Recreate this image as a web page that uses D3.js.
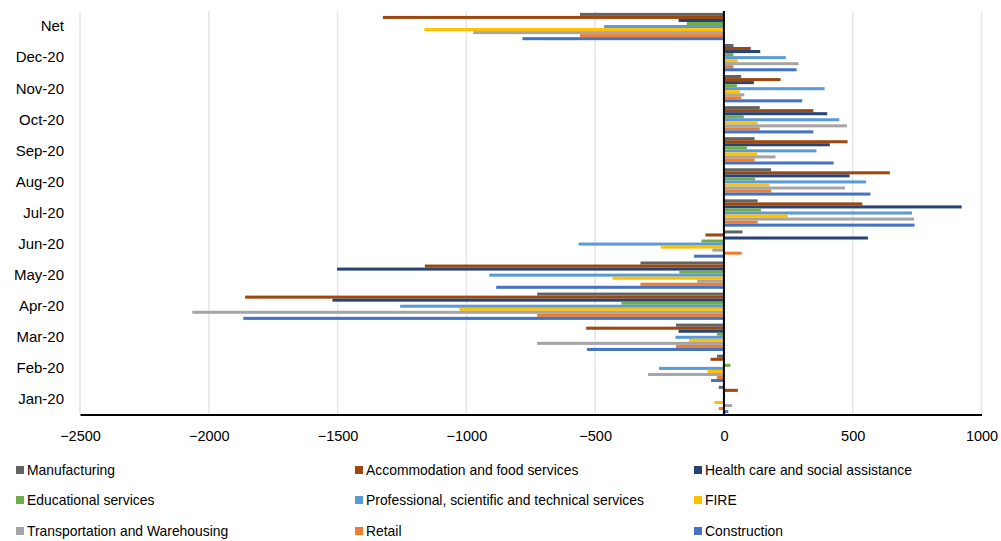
<!DOCTYPE html>
<html><head><meta charset="utf-8">
<script src="https://cdn.jsdelivr.net/npm/d3@7"></script>
<style>body{margin:0;background:#fff}svg{display:block;font-family:"Liberation Sans",Arial,sans-serif}</style>
</head><body><svg id="c" width="1001" height="541"></svg>
<script>
const categories = ["Net","Dec-20","Nov-20","Oct-20","Sep-20","Aug-20","Jul-20","Jun-20","May-20","Apr-20","Mar-20","Feb-20","Jan-20"];
const seriesNames = ["Manufacturing","Accommodation and food services","Health care and social assistance","Educational services","Professional, scientific and technical services","FIRE","Transportation and Warehousing","Retail","Construction"];
const seriesColors = ["#636363","#9E480E","#264478","#70AD47","#5B9BD5","#FFC000","#A5A5A5","#ED7D31","#4472C4"];
// values per series, in category order above
const manufacturing  = [-559, 37, 67, 139, 119, 183, 131, 72, -324, -725, -186, -27, -20];
const accommodation  = [-1324, 104, 220, 347, 480, 644, 537, -72, -1161, -1859, -535, -52, 54];
const health         = [-176, 141, 116, 401, 411, 488, 923, 559, -1502, -1520, -176, -3, 3];
const educational    = [-144, 37, 50, 77, 89, 121, 144, -87, -173, -398, -27, 25, 5];
const professional   = [-465, 240, 391, 448, 359, 552, 730, -564, -911, -1257, -188, -252, 2];
const fire           = [-1163, 54, 62, 131, 129, 176, 248, -245, -433, -1027, -136, -64, -37];
const transportation = [-973, 290, 79, 478, 200, 470, 738, -45, -104, -2064, -725, -295, 32];
const retail         = [-559, 37, 67, 139, 119, 183, 131, 69, -324, -725, -186, -27, -20];
const construction   = [-782, 282, 304, 347, 426, 569, 740, -116, -884, -1866, -532, -50, 17];
const allValues = [manufacturing, accommodation, health, educational, professional, fire, transportation, retail, construction];
const xTicks = [-2500,-2000,-1500,-1000,-500,0,500,1000];

const svg = d3.select("#c");
const x = d3.scaleLinear().domain([-2500,1000]).range([80, 981.5]);
const y = d3.scaleBand().domain(categories).range([11, 415]).padding(0);
const y1 = d3.scaleBand().domain(seriesNames).range([0, y.bandwidth()]).paddingInner(0).paddingOuter(0.62);

// gridlines
svg.append("g").selectAll("line").data(xTicks).join("line")
  .attr("x1", d=>x(d)).attr("x2", d=>x(d)).attr("y1", 11).attr("y2", 414)
  .attr("stroke", "#e6e6e6").attr("stroke-width", 1.5);

// bars
const rows = [];
categories.forEach((c,i)=>seriesNames.forEach((s,j)=>rows.push({c, s, j, v: allValues[j][i]})));
svg.append("g").selectAll("rect").data(rows).join("rect")
  .attr("x", d=>x(Math.min(0,d.v)))
  .attr("width", d=>Math.abs(x(d.v)-x(0)))
  .attr("y", d=>y(d.c)+y1(d.s))
  .attr("height", y1.bandwidth())
  .attr("fill", d=>seriesColors[d.j]);

// zero line
svg.append("line").attr("x1", x(0)).attr("x2", x(0)).attr("y1", 11).attr("y2", 415)
  .attr("stroke", "#000").attr("stroke-width", 2);

// bottom axis
const xAxis = d3.axisBottom(x).tickValues(xTicks).tickSize(0).tickPadding(16).tickFormat(d3.format("d"));
const gx = svg.append("g").attr("transform", "translate(0,414.5)").call(xAxis);
gx.select(".domain").attr("stroke", "#000").attr("stroke-width", 2);
gx.selectAll("text").attr("font-size", 14.5).attr("fill", "#000").attr("font-family", "Liberation Sans, Arial, sans-serif");

// category labels
const yAxis = d3.axisLeft(y).tickSize(0).tickPadding(0);
const gy = svg.append("g").attr("transform", "translate(64,0)").call(yAxis);
gy.select(".domain").remove();
gy.selectAll("text").attr("font-size", 15).attr("fill", "#000").attr("font-family", "Liberation Sans, Arial, sans-serif");

// legend
const colX = [16, 355, 694];
const rowY = [470, 500, 531];
const lg = svg.append("g").selectAll("g").data(seriesNames).join("g")
  .attr("transform", (d,i)=>`translate(${colX[i%3]},${rowY[Math.floor(i/3)]})`);
lg.append("rect").attr("x",0).attr("y",-4).attr("width",8).attr("height",8).attr("fill",(d,i)=>seriesColors[i]);
lg.append("text").attr("x",11).attr("y",0).attr("dy","0.35em").attr("font-size",13.9).attr("fill","#000").text(d=>d);
</script></body></html>
